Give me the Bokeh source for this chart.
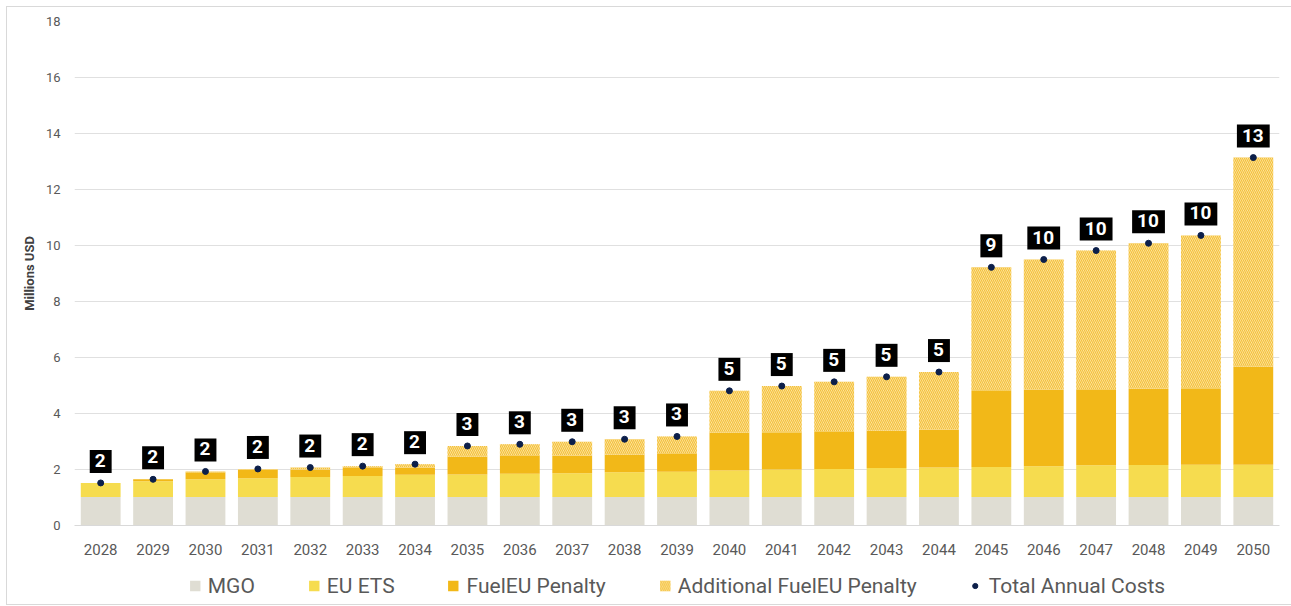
from bokeh.plotting import figure
from bokeh.layouts import column
from bokeh.models import ColumnDataSource, Legend, LegendItem
from bokeh.embed import file_html
from bokeh.resources import INLINE
from bokeh.core.properties import value

years = [str(y) for y in range(2028, 2051)]
mgo = [1.02, 1.02, 1.02, 1.02, 1.02, 1.02, 1.02, 1.02, 1.02, 1.02, 1.02, 1.02,
       1.02, 1.02, 1.02, 1.02, 1.02, 1.02, 1.02, 1.02, 1.02, 1.02, 1.02]
eu_ets = [0.50, 0.56, 0.63, 0.67, 0.71, 0.75, 0.79, 0.80, 0.83, 0.85, 0.88, 0.90,
          0.94, 0.98, 1.00, 1.03, 1.05, 1.07, 1.10, 1.13, 1.14, 1.15, 1.15]
fueleu = [0.00, 0.07, 0.25, 0.30, 0.27, 0.28, 0.25, 0.64, 0.63, 0.63, 0.64, 0.63,
          1.36, 1.33, 1.35, 1.34, 1.36, 2.74, 2.73, 2.72, 2.73, 2.73, 3.51]
additional = [0.00, 0.00, 0.03, 0.03, 0.07, 0.07, 0.13, 0.38, 0.42, 0.49, 0.54, 0.63,
              1.49, 1.65, 1.76, 1.92, 2.05, 4.39, 4.65, 4.95, 5.19, 5.46, 7.46]
total_labels = ["2", "2", "2", "2", "2", "2", "2", "3", "3", "3", "3", "3",
                "5", "5", "5", "5", "5", "9", "10", "10", "10", "10", "13"]
y_ticks = [0, 2, 4, 6, 8, 10, 12, 14, 16, 18]
series_names = ["MGO", "EU ETS", "FuelEU Penalty", "Additional FuelEU Penalty"]
total_name = "Total Annual Costs"

totals = [a + b + c + d for a, b, c, d in zip(mgo, eu_ets, fueleu, additional)]

src = ColumnDataSource(dict(year=years, mgo=mgo, eu_ets=eu_ets, fueleu=fueleu,
                            additional=additional, total=totals, label=total_labels))

FONT = "Roboto"
STACK = ["mgo", "eu_ets", "fueleu", "additional"]
FILLS = ["#dfddd3", "#f6dc4f", "#f2b818", "#fde9b4"]
HATCH = [" ", " ", " ", "\\"]
HATCH_COLORS = ["#ffffff", "#ffffff", "#ffffff", "#f4c13a"]
DOT = "#0c1f4a"


def draw(fig):
    bars = fig.vbar_stack(STACK, x="year", width=0.76, source=src,
                          fill_color=FILLS, line_color=None, hatch_pattern=HATCH,
                          hatch_color=HATCH_COLORS, hatch_scale=[4, 4, 4, 4],
                          hatch_weight=[1.2, 1.2, 1.2, 1.2])
    dot = fig.scatter(x="year", y="total", source=src, size=6, color=DOT)
    return bars, dot


p = figure(x_range=years, y_range=(0, 18), width=1284, height=560,
           output_backend="svg", toolbar_location=None,
           min_border_left=67, min_border_right=12, min_border_top=14, min_border_bottom=42)
p.outline_line_color = None
draw(p)

p.text(x="year", y="total", text="label", source=src, text_color="white",
       text_font=value(FONT), text_font_style="bold", text_font_size="19px",
       text_align="center", text_baseline="bottom", y_offset=-10,
       background_fill_color="black", padding=(5, 6, 4, 6))

p.yaxis.ticker = y_ticks
p.yaxis.axis_line_color = None
p.yaxis.major_tick_line_color = None
p.yaxis.minor_tick_line_color = None
p.yaxis.major_label_text_color = "#595959"
p.yaxis.major_label_text_font = FONT
p.yaxis.major_label_text_font_size = "13px"
p.yaxis.axis_label = "Millions USD"
p.yaxis.axis_label_text_font = FONT
p.yaxis.axis_label_text_font_style = "bold"
p.yaxis.axis_label_text_font_size = "13px"
p.yaxis.axis_label_text_color = "#404040"
p.yaxis.major_label_standoff = 8
p.yaxis.axis_label_standoff = 6

p.xaxis.axis_line_color = "#d9d9d9"
p.xaxis.major_tick_line_color = None
p.xaxis.minor_tick_line_color = None
p.xaxis.major_label_text_color = "#595959"
p.xaxis.major_label_text_font = FONT
p.xaxis.major_label_text_font_size = "15px"
p.xaxis.major_label_standoff = 12

p.xgrid.grid_line_color = None
p.ygrid.grid_line_color = "#e0e0e0"

# legend strip: same series drawn into a y window above the data, so only the legend shows
lg = figure(width=1284, height=37, output_backend="svg", toolbar_location=None,
            x_range=years, y_range=(100, 101), min_border=0)
lg.axis.visible = False
lg.grid.visible = False
lg.outline_line_color = None
lbars, ldot = draw(lg)
items = [LegendItem(label=n, renderers=[r]) for n, r in zip(series_names, lbars)]
items.append(LegendItem(label=total_name, renderers=[ldot]))

legend = Legend(items=items, orientation="horizontal", location="center")
legend.label_text_font = FONT
legend.label_text_font_size = "21px"
legend.label_text_color = "#595959"
legend.glyph_width = 13
legend.glyph_height = 13
legend.label_standoff = 7
legend.spacing = 52
legend.border_line_color = None
legend.background_fill_alpha = 0
legend.padding = 0
legend.margin = 0
lg.add_layout(legend)

layout = column(p, lg, spacing=0)
layout.margin = (6, 0, 0, 6)
layout.styles = {"border": "1px solid #d9d9d9"}

open("out.html", "w").write(file_html(layout, INLINE))
